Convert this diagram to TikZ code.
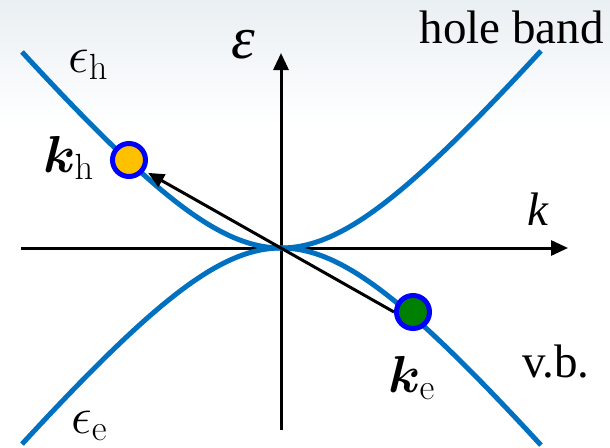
\RequirePackage{fix-cm}
\documentclass[tikz,border=0pt]{standalone}
\usepackage{bm}
\usepackage[no-math]{fontspec}
\newfontfamily\tnr{Liberation Serif}
\usetikzlibrary{arrows.meta}
\definecolor{bandblue}{RGB}{0,112,192}
\definecolor{dotgold}{RGB}{255,192,0}
\definecolor{dotgreen}{RGB}{0,128,0}
\definecolor{ringblue}{RGB}{0,0,255}
\definecolor{skytop}{RGB}{234,239,243}
\tikzset{
  axisline/.style={line width=3pt,-{Triangle[length=17pt,width=15pt]}},
  bandline/.style={line width=5pt,bandblue},
  statedot/.style={circle,draw=ringblue,line width=5pt,minimum size=33pt,inner sep=0pt},
  mathlbl/.style={inner sep=0pt,font=\fontsize{52}{60}\selectfont},
  txtlbl/.style={inner sep=0pt,font=\fontsize{47}{54}\selectfont\tnr},
  kvec/.style={line width=3pt,-{Triangle[length=16pt,width=14pt]},shorten >=4pt}
}
\begin{document}
\begin{tikzpicture}[x=1pt,y=-1pt]
\useasboundingbox (0,0) rectangle (610,447);
\shade[top color=skytop,bottom color=white,draw=none] (0,0) rectangle (610,125);
% axes
\coordinate (xs) at (21,248);
\coordinate (xe) at (568,248);
\coordinate (ys) at (281,430);
\coordinate (ye) at (281,53);
\draw[axisline] (xs) -- (xe);
\draw[axisline] (ys) -- (ye);
% bands
\draw[bandline] plot[domain=-2.59:2.6,samples=120,smooth]
  ({281+100*\x},{248-100*(sqrt(1.45*\x*\x+2.25)-1.5)});
\draw[bandline] plot[domain=-2.59:2.6,samples=120,smooth]
  ({281+100*\x},{248+100*(sqrt(1.45*\x*\x+2.25)-1.5)});
% state dots
\node[statedot,fill=dotgold] (yd) at (129,160) {};
\node[statedot,fill=dotgreen] (ge) at (413,312) {};
\draw[kvec] (ge.west) -- (yd.-35);
% labels
\node[mathlbl,anchor=base west] (eh) at (68,72) {$\epsilon_{\mathrm{h}}$};
\node[mathlbl,anchor=base west] (ee) at (71,433) {$\epsilon_{\mathrm{e}}$};
\node[mathlbl,anchor=base west] (kh) at (43,172) {$\bm{k}_{\mathrm{h}}$};
\node[mathlbl,anchor=base west] (ke) at (388,392) {$\bm{k}_{\mathrm{e}}$};
\node[txtlbl,anchor=base west] (kax) at (527,225) {\itshape k};
\node[txtlbl,anchor=base west,font=\fontsize{60}{64}\selectfont\tnr] (eax) at (231,58) {\itshape ε};
\node[txtlbl,anchor=base east] (hb) at (604,43) {hole band};
\node[txtlbl,anchor=base west] (vb) at (522,377) {v.b.};
\end{tikzpicture}
\end{document}
